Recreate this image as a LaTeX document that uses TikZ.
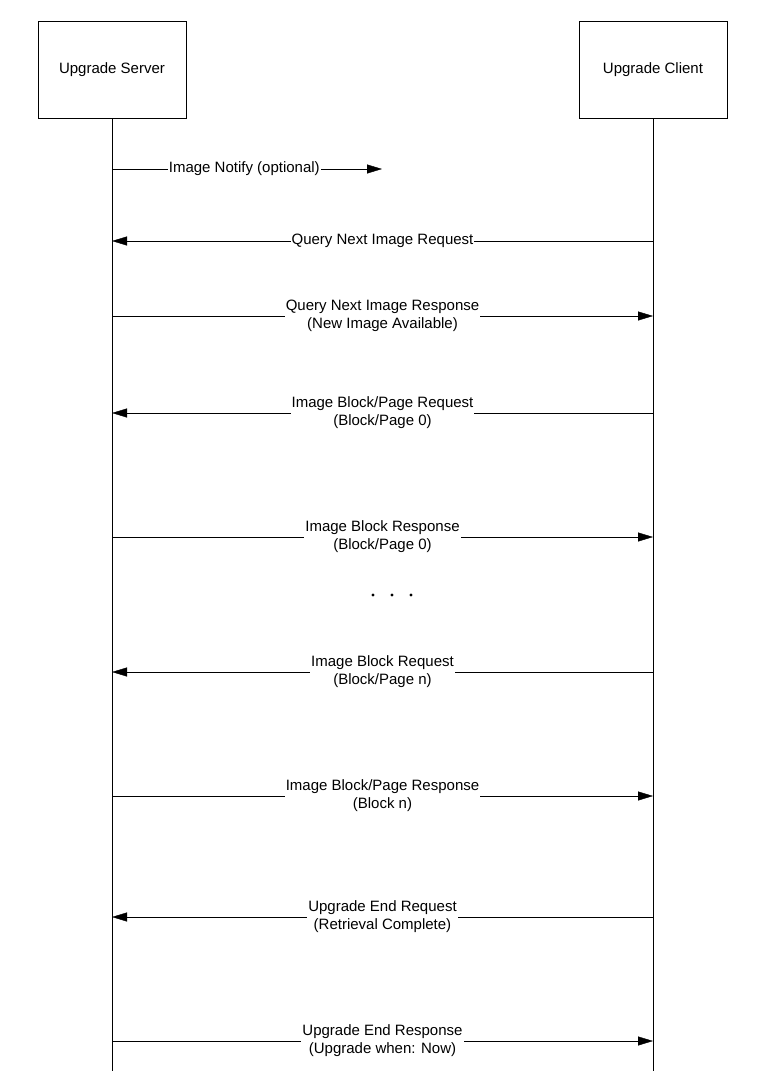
\documentclass[tikz,border=0pt]{standalone}
\usepackage{fontspec}
\setmainfont{Liberation Sans}
\usetikzlibrary{arrows.meta}
\begin{document}
\begin{tikzpicture}[x=1pt,y=-1pt,
        actor/.style={draw,minimum width=148pt,minimum height=97pt,font=\fontsize{15}{18}\selectfont},
        msg/.style={-{Triangle[length=15pt,width=9pt]}},
        lbl/.style={fill=white,inner sep=1pt,align=center,font=\fontsize{15}{18}\selectfont}]
        \useasboundingbox (0,0) rectangle (757,1071);
        % participants
        \node [actor] (srv) at (112,69.5) {Upgrade Server};
        \node [actor] (cli) at (653,69.5) {Upgrade Client};
        \coordinate (srvend) at (112,1071);
        \coordinate (cliend) at (653,1071);
        \draw (srv.south) -- (srvend);
        \draw (cli.south) -- (cliend);
        % messages
        \coordinate (s0) at (112,169);  \coordinate (n0) at (382,169);
        \draw [msg] (s0) -- (n0) node [lbl,pos=0.49] (m0) {Image Notify (optional)};
        \foreach \y/\dir/\txt [count=\i] in {
            241/l/{Query Next Image Request},
            316/r/{Query Next Image Response\\(New Image Available)},
            413/l/{Image Block/Page Request\\(Block/Page 0)},
            537/r/{Image Block Response\\(Block/Page 0)},
            672/l/{Image Block Request\\(Block/Page n)},
            796/r/{Image Block/Page Response\\(Block n)},
            917/l/{Upgrade End Request\\(Retrieval Complete)},
            1041/r/{Upgrade End Response\\(Upgrade when: Now)}} {
          \coordinate (sa\i) at (112,\y);
          \coordinate (cl\i) at (653,\y);
          \if r\dir
            \draw [msg] (sa\i) -- (cl\i) node [lbl,pos=0.5] (m\i) {\txt};
          \else
            \draw [msg] (cl\i) -- (sa\i) node [lbl,pos=0.5] (m\i) {\txt};
          \fi
        }
        % continuation dots
        \foreach \x [count=\j] in {373,392,411}
          \fill (\x,595) circle (1.6pt) coordinate (dot\j);
\end{tikzpicture}
\end{document}
